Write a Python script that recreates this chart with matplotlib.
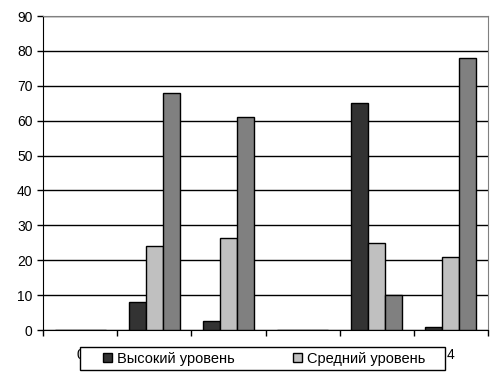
import numpy as np
import matplotlib.pyplot as plt
from matplotlib.patches import Patch, Rectangle

plt.rcParams['font.family'] = ['Liberation Sans', 'DejaVu Sans']

categories = ['0', '1', '2', '3', '3', '4']
high = [0, 8, 2.5, 0, 65, 1]
mid = [0, 24, 26.5, 0, 25, 21]
low = [0, 68, 61, 0, 10, 78]

series_names = ['Высокий уровень', 'Средний уровень']
colors = ['#333333', '#c0c0c0', '#808080']

W, H = 501, 376
fig = plt.figure(figsize=(W / 100, H / 100), dpi=100)
ax = fig.add_axes([43 / W, 1 - 330 / H, 445 / W, 314 / H])

x = np.arange(len(categories))
w = 0.229
for i, vals in enumerate([high, mid, low]):
    ax.bar(x + (i - 1) * w, vals, w, color=colors[i], edgecolor='black', linewidth=1, zorder=3)

ax.set_xlim(-0.5, len(categories) - 0.5)
ax.set_ylim(0, 90)
ax.set_yticks(range(0, 91, 10))
ax.yaxis.grid(True, color='black', linewidth=1, zorder=0)

# ticks on category boundaries, labels at centers
ax.set_xticks(np.arange(-0.5, len(categories), 1))
ax.set_xticklabels([])
ax.set_xticks(x, minor=True)
ax.set_xticklabels(categories, minor=True)
ax.tick_params(axis='x', which='minor', length=0, pad=13, labelsize=10)
ax.tick_params(axis='both', which='major', length=4, width=1, direction='out', labelsize=10)

for s in ['top', 'right']:
    ax.spines[s].set_color('#808080')
for s in ['left', 'bottom']:
    ax.spines[s].set_color('black')

# legend box drawn by hand, entries centered inside it
box = Rectangle((80 / W, 1 - 370 / H), 365 / W, 23 / H, transform=fig.transFigure,
                facecolor='white', edgecolor='black', linewidth=1, zorder=9)
fig.add_artist(box)

handles = [Patch(facecolor=colors[i], edgecolor='black', linewidth=1) for i in range(2)]
leg = fig.legend(handles, series_names, loc='center', bbox_to_anchor=(264 / W, 1 - 358.5 / H),
                 ncol=2, frameon=False, fontsize=10.5, handlelength=0.6, handleheight=0.6,
                 handletextpad=0.35, columnspacing=4.0, borderpad=0, borderaxespad=0)
leg.set_zorder(10)

fig.savefig('out.png', dpi=100)
